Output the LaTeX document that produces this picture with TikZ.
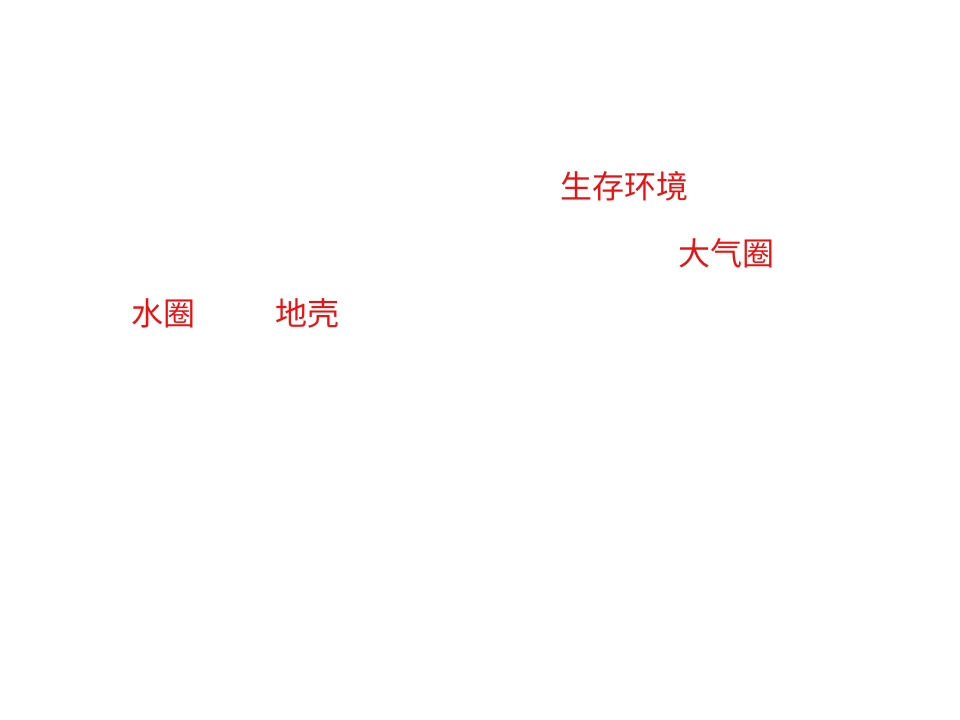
\documentclass[tikz,border=0pt]{standalone}
\usepackage{fontspec}
\newfontfamily\cjk{Noto Sans CJK SC}
\definecolor{lblred}{RGB}{230,20,20}
\begin{document}
\begin{tikzpicture}[x=0.75pt,y=-0.75pt,
  lbl/.style={text=lblred,font=\cjk\fontsize{24}{27}\selectfont,inner sep=0pt}]
\useasboundingbox (0,0) rectangle (960,720);
\node[lbl] (env) at (624,186) {生存环境};
\node[lbl] (air) at (726,253) {大气圈};
\node[lbl] (water) at (163,313) {水圈};
\node[lbl] (crust) at (307,313) {地壳};
\end{tikzpicture}
\end{document}
